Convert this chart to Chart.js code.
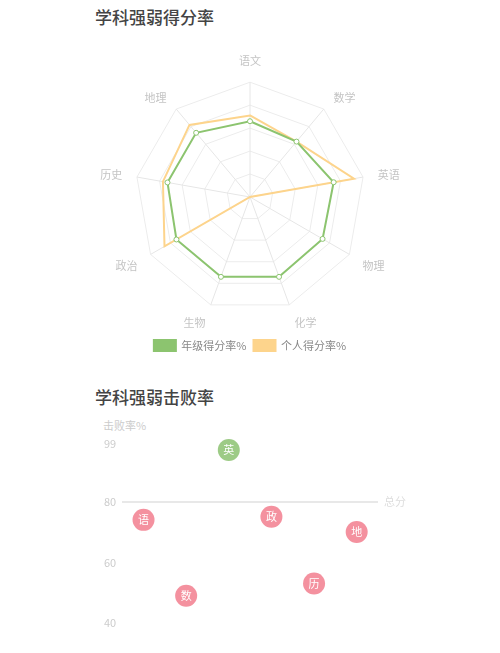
<!DOCTYPE html>
<html>
<head>
<meta charset="utf-8">
<script src="https://cdn.jsdelivr.net/npm/chart.js@4.4.0/dist/chart.umd.min.js"></script>
<style>
    body { margin: 0; background: #fff; width: 500px; height: 653px; position: relative; overflow: hidden; font-family: "Noto Sans CJK SC", sans-serif; }
    .titulo { position: absolute; left: 95px; font-size: 17px; font-weight: 500; color: #444; line-height: 20px; }
    .caja { position: absolute; left: 0; width: 500px; }
    .eje { position: absolute; left: 103px; top: 418px; font-size: 11px; line-height: 14px; color: #ccc; }
</style>
</head>
<body>
<div class="titulo" style="top: 7px;">学科强弱得分率</div>
<div class="caja" style="top: 47px; height: 314px;"><canvas id="graficaRadar"></canvas></div>
<div class="titulo" style="top: 387px;">学科强弱击败率</div>
<div class="eje">击败率%</div>
<div class="caja" style="top: 410px; height: 243px;"><canvas id="graficaBurbujas"></canvas></div>

<script>
// Datos del radar
const materias = ['语文', '数学', '英语', '物理', '化学', '生物', '政治', '历史', '地理'];
const gradoPct = [66, 63, 74, 73, 74, 74, 74, 73, 73];
const personalPct = [71, 63, 92, 0, 0, 0, 86, 77, 82];

// Datos del grafico de burbujas
const materiasCortas = ['语', '数', '英', '政', '历', '地'];
const tasaVictoria = [74, 49, 97, 75, 53, 70];
const lineaTotal = 80;
const ticksTasa = [40, 60, 80, 99];

const verde = '#8cc46f';
const naranja = '#fdd48c';
const rosa = '#f4919f';
const verdeBurbuja = '#9dcb86';

Chart.defaults.font.family = '"Noto Sans CJK SC", sans-serif';

// Alto de linea de cada etiqueta: centra el texto sobre su eje (menos la de arriba)
function altoEtiqueta(ctx) {
    const angulo = ctx.index * 360 / materias.length;
    if (angulo === 0) return 1.2;
    return (angulo < 90 || angulo > 270) ? 0.01 : 0.7;
}

// Grafico radar (div1)
const ctxRadar = document.getElementById('graficaRadar');
new Chart(ctxRadar, {
    type: 'radar',
    data: {
        labels: materias,
        datasets: [{
            label: '年级得分率%',
            data: gradoPct,
            borderColor: verde,
            backgroundColor: verde,
            fill: false,
            borderWidth: 2,
            pointRadius: 2.5,
            pointBackgroundColor: '#fff',
            pointBorderColor: verde,
            pointBorderWidth: 1
        }, {
            label: '个人得分率%',
            data: personalPct,
            borderColor: naranja,
            backgroundColor: naranja,
            fill: false,
            borderWidth: 2,
            pointRadius: 0
        }]
    },
    options: {
        responsive: true,
        maintainAspectRatio: false,
        animation: false,
        plugins: {
            legend: {
                position: 'bottom',
                labels: { boxWidth: 22, boxHeight: 11, color: '#888', font: { size: 11 }, padding: 7 }
            },
            tooltip: { enabled: false }
        },
        scales: {
            r: {
                min: 0,
                max: 100,
                ticks: { display: false, stepSize: 20 },
                grid: { color: '#ececec' },
                angleLines: { color: '#e6e6e6' },
                pointLabels: {
                    color: '#c4c4c4',
                    font: ctx => ({ size: 11, lineHeight: altoEtiqueta(ctx) }),
                    padding: 15
                }
            }
        }
    }
});

// Texto dentro de cada burbuja
const textoBurbujas = {
    id: 'textoBurbujas',
    afterDatasetsDraw(chart) {
        const ctx = chart.ctx;
        ctx.save();
        ctx.fillStyle = '#fff';
        ctx.font = '11px "Noto Sans CJK SC"';
        ctx.textAlign = 'center';
        ctx.textBaseline = 'middle';
        chart.getDatasetMeta(0).data.forEach((el, i) => {
            ctx.fillText(materiasCortas[i], el.x, el.y);
        });
        ctx.restore();
    }
};

// Grafico de burbujas (div2)
const ctxBurbujas = document.getElementById('graficaBurbujas');
new Chart(ctxBurbujas, {
    type: 'bubble',
    data: {
        labels: materiasCortas,
        datasets: [{
            data: materiasCortas.map((m, i) => ({ x: m, y: tasaVictoria[i] })),
            backgroundColor: tasaVictoria.map(v => v > lineaTotal ? verdeBurbuja : rosa),
            borderWidth: 0,
            radius: 11,
            hoverRadius: 0,
            clip: false
        }]
    },
    options: {
        responsive: true,
        maintainAspectRatio: false,
        animation: false,
        layout: { autoPadding: false, padding: { top: 34, left: 98, right: 88, bottom: 30 } },
        plugins: {
            legend: { display: false },
            tooltip: { enabled: false }
        },
        scales: {
            x: { type: 'category', offset: true, display: false },
            y: {
                min: 40,
                max: 99,
                afterBuildTicks: axis => { axis.ticks = ticksTasa.map(v => ({ value: v })); },
                ticks: { color: '#ccc', font: { size: 11 }, padding: 6 },
                border: { display: false },
                grid: {
                    drawTicks: false,
                    lineWidth: 2,
                    color: c => c.tick && c.tick.value === lineaTotal ? '#e8e8e8' : 'rgba(0,0,0,0)'
                }
            },
            y2: {
                position: 'right',
                min: 40,
                max: 99,
                afterBuildTicks: axis => { axis.ticks = [{ value: lineaTotal }]; },
                ticks: { color: '#ddd', font: { size: 11 }, padding: 6, callback: () => '总分' },
                border: { display: false },
                grid: { display: false, drawTicks: false }
            }
        }
    },
    plugins: [textoBurbujas]
});
</script>
</body>
</html>
